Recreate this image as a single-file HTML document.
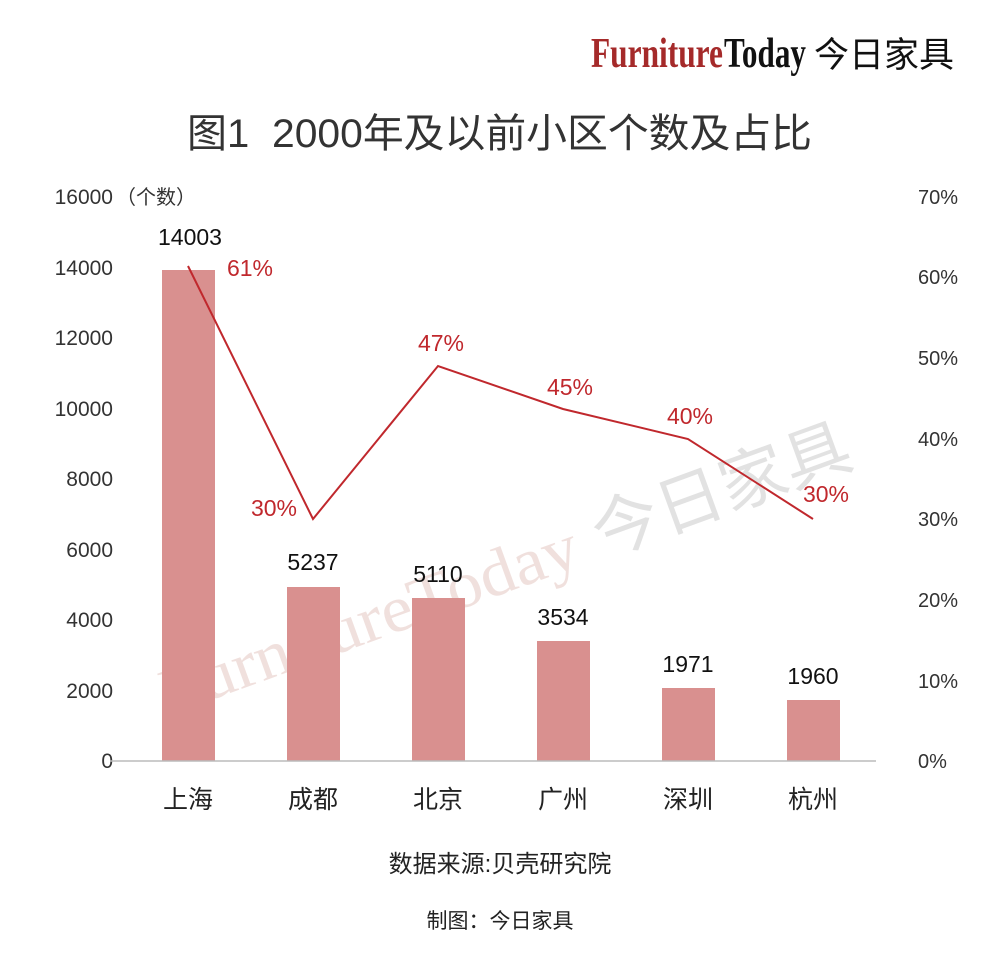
<!DOCTYPE html>
<html><head><meta charset="utf-8"><style>
body{margin:0;background:#fff;}
svg text{font-family:"Liberation Sans","Noto Sans CJK SC",sans-serif;}
</style></head><body>
<svg width="1000" height="970" viewBox="0 0 1000 970" xmlns="http://www.w3.org/2000/svg">
<rect width="1000" height="970" fill="#fff"/>
<text x="591" y="67" font-size="42" font-weight="bold" fill="#a52a2a" style="font-family:'Liberation Serif',serif" textLength="132" lengthAdjust="spacingAndGlyphs">Furniture</text>
<text x="724" y="67" font-size="42" font-weight="bold" fill="#111" style="font-family:'Liberation Serif',serif" textLength="82" lengthAdjust="spacingAndGlyphs">Today</text>
<text x="814" y="67" font-size="35" fill="#111">今日家具</text>
<text x="187" y="147" font-size="40" fill="#333">图1</text>
<text x="272" y="147" font-size="40" fill="#333" textLength="540" lengthAdjust="spacingAndGlyphs">2000年及以前小区个数及占比</text>
<g font-size="21" fill="#333" text-anchor="end">
<text x="113" y="204">16000</text><text x="113" y="275">14000</text><text x="113" y="345">12000</text>
<text x="113" y="416">10000</text><text x="113" y="486">8000</text><text x="113" y="557">6000</text>
<text x="113" y="627">4000</text><text x="113" y="698">2000</text><text x="113" y="768">0</text>
</g>
<text x="116" y="204" font-size="20" fill="#333">（个数）</text>
<g font-size="20" fill="#333">
<text x="918" y="204">70%</text><text x="918" y="284">60%</text><text x="918" y="365">50%</text>
<text x="918" y="446">40%</text><text x="918" y="526">30%</text><text x="918" y="607">20%</text>
<text x="918" y="688">10%</text><text x="918" y="768">0%</text>
</g>
<g transform="rotate(-20 170 715)" opacity="0.18">
<text x="170" y="715" font-size="66" fill="#b05a4a" style="font-family:'Liberation Serif',serif" textLength="440" lengthAdjust="spacingAndGlyphs">FurnitureToday</text>
<text x="630" y="715" font-size="66" fill="#666" textLength="270" lengthAdjust="spacingAndGlyphs">今日家具</text>
</g>
<g fill="#d9908f">
<rect x="162" y="270" width="53" height="491"/>
<rect x="287" y="587" width="53" height="174"/>
<rect x="412" y="598" width="53" height="163"/>
<rect x="537" y="641" width="53" height="120"/>
<rect x="662" y="688" width="53" height="73"/>
<rect x="787" y="700" width="53" height="61"/>
</g>
<line x1="110" y1="761" x2="876" y2="761" stroke="#bbb" stroke-width="1.5"/>
<polyline points="188,266 313,519 438,366 563,409 688,439 813,519" fill="none" stroke="#c0282d" stroke-width="2"/>
<g font-size="23" fill="#111" text-anchor="middle">
<text x="190" y="245">14003</text><text x="313" y="570">5237</text><text x="438" y="582">5110</text>
<text x="563" y="625">3534</text><text x="688" y="672">1971</text><text x="813" y="684">1960</text>
</g>
<g font-size="23" fill="#c0282d" text-anchor="middle">
<text x="250" y="276">61%</text><text x="274" y="516">30%</text><text x="441" y="351">47%</text>
<text x="570" y="395">45%</text><text x="690" y="424">40%</text><text x="826" y="502">30%</text>
</g>
<g font-size="25" fill="#222" text-anchor="middle">
<text x="188" y="808">上海</text><text x="313" y="808">成都</text><text x="438" y="808">北京</text>
<text x="563" y="808">广州</text><text x="688" y="808">深圳</text><text x="813" y="808">杭州</text>
</g>
<text x="500" y="872" font-size="24" fill="#222" text-anchor="middle">数据来源:贝壳研究院</text>
<text x="500" y="928" font-size="21" fill="#222" text-anchor="middle">制图：今日家具</text>
</svg>
</body></html>
